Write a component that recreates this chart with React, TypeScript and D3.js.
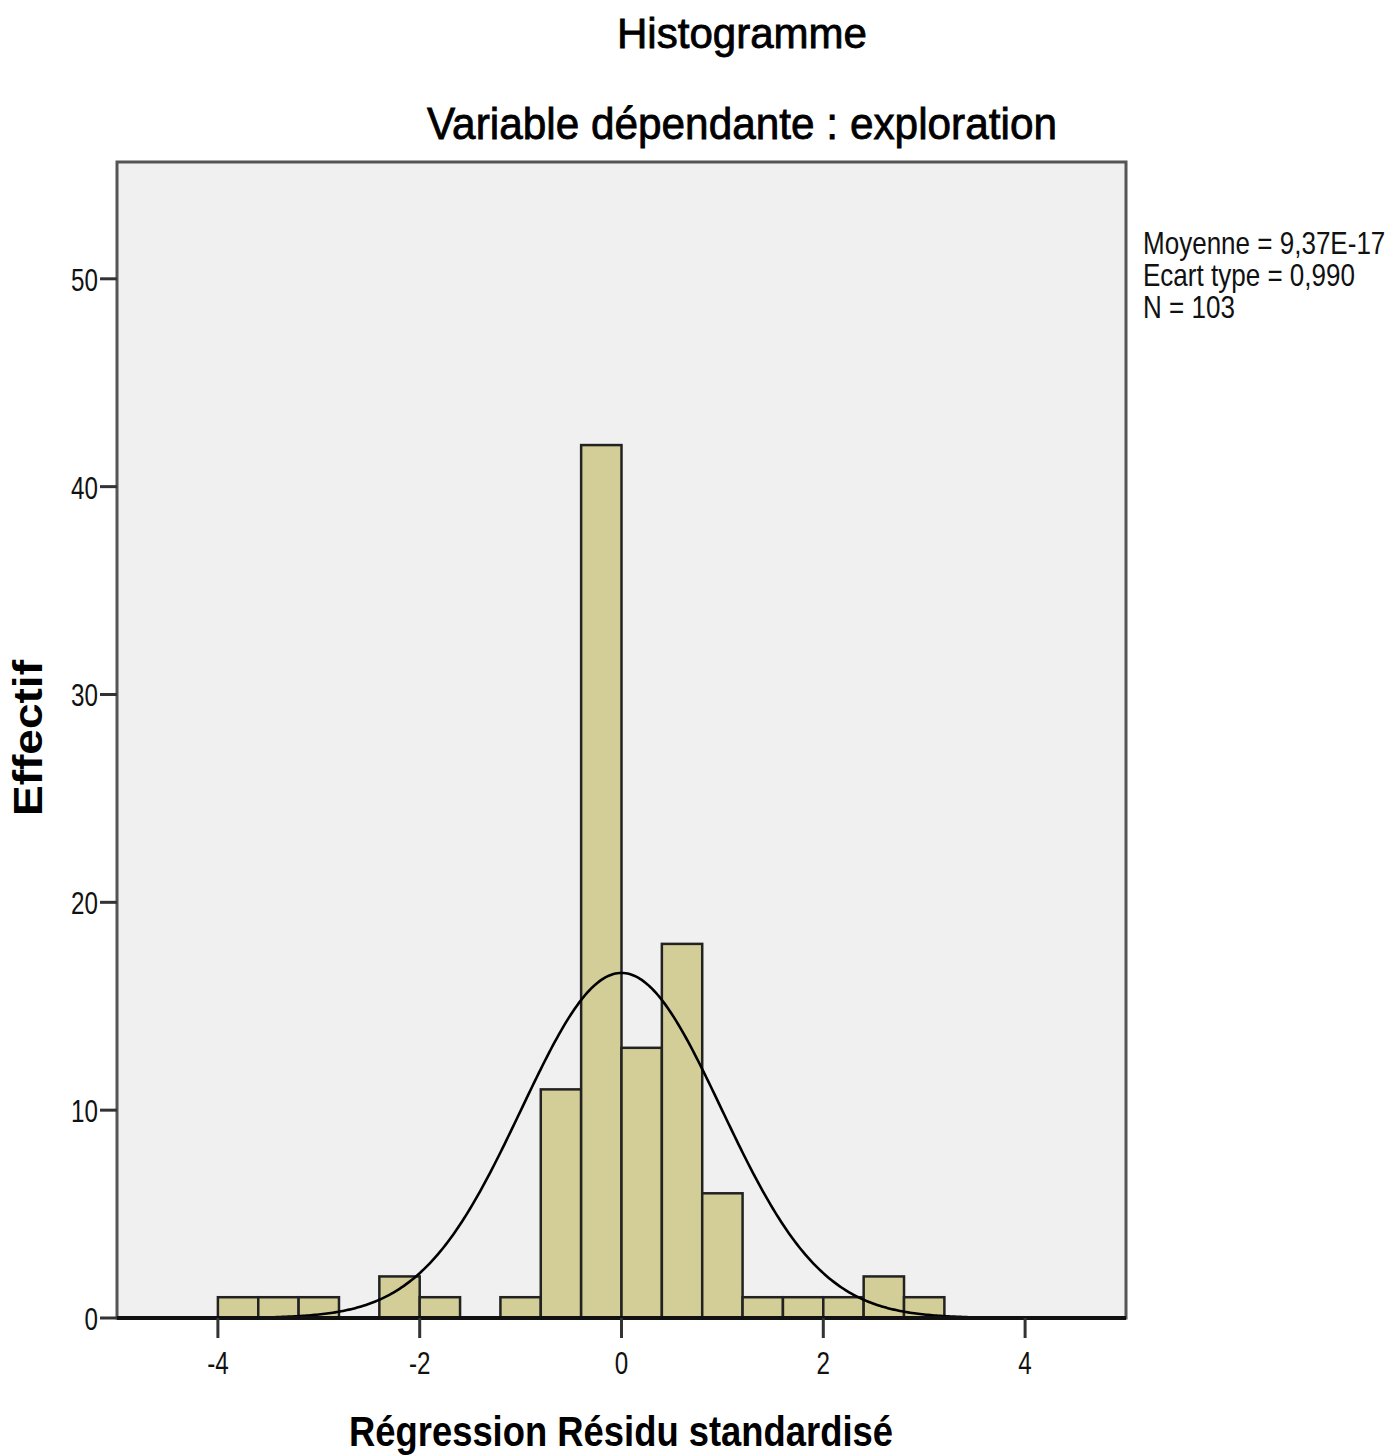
import React from "react";
import * as d3 from "d3";

const binStarts = [-4.0, -3.6, -3.2, -2.8, -2.4, -2.0, -1.6, -1.2, -0.8, -0.4, 0.0, 0.4, 0.8, 1.2, 1.6, 2.0, 2.4, 2.8];
const binCounts = [1, 1, 1, 0, 2, 1, 0, 1, 11, 42, 13, 18, 6, 1, 1, 1, 2, 1];
const binWidth = 0.4;
const xTicks = [-4, -2, 0, 2, 4];
const yTicks = [0, 10, 20, 30, 40, 50];
const statMean = 9.37e-17;
const statSd = 0.99;
const statN = 103;
const statLines = ["Moyenne = 9,37E-17", "Ecart type = 0,990", "N = 103"];

const W = 1390;
const H = 1456;
const L = 117, R = 1126, T = 162, B = 1318;

export default function App() {
  const x = d3.scaleLinear().domain([-5, 5]).range([L, R]);
  const y = d3.scaleLinear().domain([0, 55.62]).range([B, T]);
  const pdf = (v: number) =>
    (statN * binWidth) / (statSd * Math.sqrt(2 * Math.PI)) *
    Math.exp(-0.5 * Math.pow((v - statMean) / statSd, 2));
  const curvePts = d3.range(-5, 5.0001, 0.02).map((v) => [v, pdf(v)] as [number, number]);
  const line = d3.line<[number, number]>().x((d) => x(d[0])).y((d) => y(d[1]));
  const font = "Arial, 'Liberation Sans', sans-serif";
  return (
    <svg width={W} height={H} style={{ position: "absolute", left: 0, top: 0, background: "#fff" }}>
      <text x={742} y={48} fontFamily={font} fontSize={42} textAnchor="middle" textLength={250} lengthAdjust="spacingAndGlyphs" fill="#000" stroke="#000" strokeWidth={0.8}>Histogramme</text>
      <text x={742} y={139} fontFamily={font} fontSize={44} textAnchor="middle" textLength={630} lengthAdjust="spacingAndGlyphs" fill="#000" stroke="#000" strokeWidth={0.8}>Variable dépendante : exploration</text>
      <rect x={L} y={T} width={R - L} height={B - T} fill="#f0f0f0" />
      <defs>
        <clipPath id="plotclip"><rect x={L} y={T} width={R - L} height={B - T} /></clipPath>
      </defs>
      {binStarts.map((s, i) =>
        binCounts[i] > 0 ? (
          <rect key={i} x={x(s)} y={y(binCounts[i])} width={x(s + binWidth) - x(s)} height={B - y(binCounts[i])}
            fill="#d3ce97" stroke="#222" strokeWidth={2.5} />
        ) : null
      )}
      <path d={line(curvePts) || ""} fill="none" stroke="#000" strokeWidth={2.6} clipPath="url(#plotclip)" />
      <rect x={L} y={T} width={R - L} height={B - T} fill="none" stroke="#555" strokeWidth={3} />
      <line x1={L} x2={R} y1={B} y2={B} stroke="#111" strokeWidth={4} />
      {yTicks.map((t) => (
        <g key={t}>
          <line x1={L - 17} x2={L} y1={y(t)} y2={y(t)} stroke="#333" strokeWidth={3} />
          <text x={98} y={y(t) + 12} fontFamily={font} fontSize={31} textAnchor="end" fill="#111"
            transform={`translate(98 0) scale(0.78 1) translate(-98 0)`}>{t}</text>
        </g>
      ))}
      {xTicks.map((t) => (
        <g key={t}>
          <line x1={x(t)} x2={x(t)} y1={B} y2={B + 20} stroke="#333" strokeWidth={3} />
          <text x={x(t)} y={1374} fontFamily={font} fontSize={31} textAnchor="middle" fill="#111"
            transform={`translate(${x(t)} 0) scale(0.78 1) translate(${-x(t)} 0)`}>{t}</text>
        </g>
      ))}
      <text x={621} y={1446} fontFamily={font} fontSize={42} fontWeight="bold" textAnchor="middle" textLength={544} lengthAdjust="spacingAndGlyphs" fill="#000">Régression Résidu standardisé</text>
      <text transform="translate(42 738) rotate(-90)" fontFamily={font} fontSize={40} fontWeight="bold" textAnchor="middle" textLength={156} lengthAdjust="spacingAndGlyphs" fill="#000">Effectif</text>
      <g transform="translate(1143 0) scale(0.84 1)">
        {statLines.map((s, i) => (
          <text key={i} x={0} y={254 + i * 32} fontFamily={font} fontSize={31} fill="#111">{s}</text>
        ))}
      </g>
    </svg>
  );
}
